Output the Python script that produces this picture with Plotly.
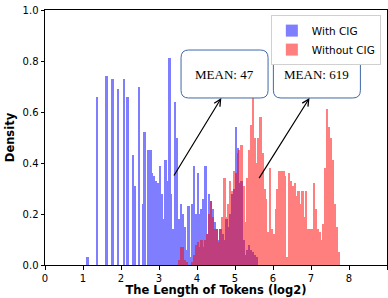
import plotly.graph_objects as go

# ---- data (density per bin) ----
bin_width = 0.05

with_cig_first_center = 1.13
with_cig_density = [
    0.03, 0, 0, 0, 0, 0.66, 0, 0, 0, 0,          # 1.13 .. 1.58
    0.74, 0, 0, 0.73, 0, 0, 0.69, 0, 0, 0.73,    # 1.63 .. 2.08
    0, 0.66, 0, 0, 0.43, 0.31, 0, 0.70, 0, 0.24, # 2.13 .. 2.58
    0.52, 0, 0.45, 0.45, 0.36, 0.35, 0.33, 0.32, 0.39, 0.28,  # 2.63 .. 3.08
    0.18, 0.41, 0.33, 0.81, 0.28, 0.14, 0.64, 0.50, 0.18, 0.24,  # 3.13 .. 3.58
    0.20, 0.15, 0.06, 0.23, 0.03, 0.24, 0.39, 0.20, 0.36, 0.20,  # 3.63 .. 4.08
    0.22, 0.26, 0.39, 0.12, 0.28, 0.25, 0.22, 0.17, 0.14, 0.10,  # 4.13 .. 4.58
    0.14, 0.12, 0.10, 0.18, 0.15, 0.20, 0.28, 0.30, 0.54, 0.46,  # 4.63 .. 5.08
    0.32, 0.33, 0.10, 0.04, 0.06, 0.08, 0.06, 0.05, 0.04, 0.03,  # 5.13 .. 5.58
]

without_cig_first_center = 3.48
without_cig_density = [
    0.00, 0.02, 0.07, 0.07, 0.02, 0.01, 0.00, 0.00, 0.01, 0.04,  # 3.48 .. 3.93
    0.08, 0.09, 0.07, 0.10, 0.07, 0.10, 0.12, 0.20, 0.25, 0.19,  # 3.98 .. 4.43
    0.14, 0.14, 0.09, 0.14, 0.19, 0.34, 0.19, 0.24, 0.33, 0.29,  # 4.48 .. 4.93
    0.37, 0.36, 0.44, 0.45, 0.47, 0.31, 0.17, 0.34, 0.45, 0.55,  # 4.98 .. 5.43
    0.66, 0.50, 0.40, 0.50, 0.58, 0.44, 0.30, 0.26, 0.13, 0.38,  # 5.48 .. 5.93
    0.14, 0.12, 0.22, 0.30, 0.37, 0.37, 0.37, 0.35, 0.03, 0.36,  # 5.98 .. 6.43
    0.33, 0.31, 0.32, 0.27, 0.29, 0.24, 0.29, 0.19, 0.29, 0.14,  # 6.48 .. 6.93
    0.14, 0.14, 0.32, 0.22, 0.14, 0.13, 0.10, 0.16, 0.38, 0.61,  # 6.98 .. 7.43
    0.54, 0.50, 0.41, 0.24, 0.15, 0.05,                          # 7.48 .. 7.73
]

series_names = ["With CIG", "Without CIG"]
mean_labels = ["MEAN: 47", "MEAN: 619"]

x_ticks = list(range(0, 10))
y_ticks = [0.0, 0.2, 0.4, 0.6, 0.8, 1.0]

# ---- build figure ----
def centers(first, n):
    return [round(first + i * bin_width, 4) for i in range(n)]

fig = go.Figure()
fig.add_trace(go.Bar(
    x=centers(with_cig_first_center, len(with_cig_density)),
    y=with_cig_density, width=bin_width, name=series_names[0],
    marker=dict(color="rgb(0,0,255)", line=dict(width=0)), opacity=0.5,
))
fig.add_trace(go.Bar(
    x=centers(without_cig_first_center, len(without_cig_density)),
    y=without_cig_density, width=bin_width, name=series_names[1],
    marker=dict(color="rgb(255,0,0)", line=dict(width=0)), opacity=0.5,
))

def rounded_box(x0, x1, y0, y1, rx=0.2, ry=0.03):
    return (f"M{x0+rx},{y0} L{x1-rx},{y0} Q{x1},{y0} {x1},{y0+ry} "
            f"L{x1},{y1-ry} Q{x1},{y1} {x1-rx},{y1} L{x0+rx},{y1} "
            f"Q{x0},{y1} {x0},{y1-ry} L{x0},{y0+ry} Q{x0},{y0} {x0+rx},{y0} Z")

boxes = [(3.58, 5.87), (6.01, 8.30)]
box_y = (0.655, 0.843)
arrows = [((3.37, 0.345), (4.64, 0.655)), ((5.61, 0.335), (6.96, 0.655))]

for (bx0, bx1), label, (tail, head) in zip(boxes, mean_labels, arrows):
    fig.add_shape(type="path", path=rounded_box(bx0, bx1, box_y[0], box_y[1]),
                  xref="x", yref="y", line=dict(color="#3f68a8", width=1),
                  fillcolor="white", layer="above")
    fig.add_annotation(x=(bx0 + bx1) / 2, y=(box_y[0] + box_y[1]) / 2,
                       text=label, showarrow=False, xref="x", yref="y",
                       font=dict(family="Liberation Serif", size=13, color="black"))
    fig.add_annotation(x=head[0], y=head[1], ax=tail[0], ay=tail[1],
                       xref="x", yref="y", axref="x", ayref="y", text="",
                       showarrow=True, arrowhead=5, arrowsize=1.1,
                       arrowwidth=1.2, arrowcolor="black", standoff=0)

axis_common = dict(showline=True, linecolor="black", linewidth=1, mirror=True,
                   ticks="outside", ticklen=3.5, tickcolor="black", showgrid=False,
                   zeroline=False,
                   tickfont=dict(family="DejaVu Sans", size=10, color="black"))

fig.update_layout(
    width=388, height=298,
    margin=dict(l=45, r=1, t=10, b=33),
    paper_bgcolor="white", plot_bgcolor="white",
    barmode="overlay", bargap=0,
    showlegend=True,
    legend=dict(x=0.982, y=0.98, xanchor="right", yanchor="top",
                bgcolor="white", bordercolor="#d0d0d0", borderwidth=1,
                font=dict(family="DejaVu Sans", size=10.5, color="black"),
                tracegroupgap=0, itemsizing="constant"),
    xaxis=dict(range=[0, 9], tickvals=x_ticks, ticktext=[str(t) for t in x_ticks],
               title=dict(text="<b>The Length of Tokens (log2)</b>", standoff=3,
                          font=dict(family="DejaVu Sans", size=11.5, color="black")),
               **axis_common),
    yaxis=dict(range=[0, 1], tickvals=y_ticks, ticktext=[f"{t:.1f}" for t in y_ticks],
               title=dict(text="<b>Density</b>", standoff=5,
                          font=dict(family="DejaVu Sans", size=11.5, color="black")),
               **axis_common),
)

fig.write_html(
    "out.html",
    config={"displayModeBar": False},
    post_script="document.body.style.margin='0';document.body.style.padding='0';"
                "document.documentElement.style.overflow='hidden';",
)
